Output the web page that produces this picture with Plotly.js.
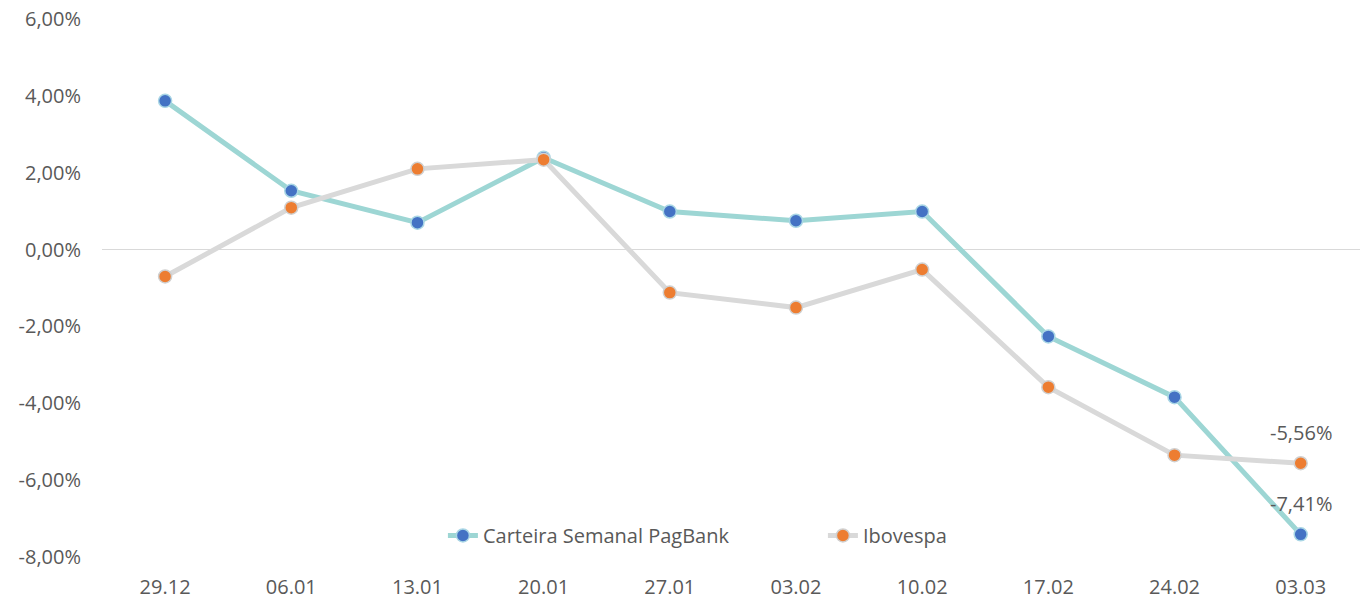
<!DOCTYPE html>
<html><head><meta charset="utf-8">
<script src="https://cdn.plot.ly/plotly-3.0.1.min.js"></script>
<style>html,body{margin:0;padding:0;background:#fff}#c{width:1360px;height:601px}</style>
</head><body><div id="c"></div>
<script>
const categories = ["29.12","06.01","13.01","20.01","27.01","03.02","10.02","17.02","24.02","03.03"];
const carteira = [0.0387,0.0153,0.0070,0.0239,0.0099,0.0075,0.0099,-0.0226,-0.0384,-0.0741];
const ibovespa = [-0.0070,0.0109,0.0210,0.0234,-0.0112,-0.0151,-0.0052,-0.0358,-0.0535,-0.0556];
const yTickVals = [-0.08,-0.06,-0.04,-0.02,0,0.02,0.04,0.06];
const yTickText = ["-8,00%","-6,00%","-4,00%","-2,00%","0,00%","2,00%","4,00%","6,00%"];
const lastLabels = {carteira:"-7,41%", ibovespa:"-5,56%"};

const font = {family:"Open Sans, Lato, sans-serif", size:20, color:"#595959"};
const last = categories.length - 1;
const traces = [
 {x:categories, y:carteira, name:"Carteira Semanal PagBank", type:"scatter", mode:"lines+markers",
  line:{color:"#9dd6d4", width:5}, marker:{color:"#4472c4", size:13, line:{color:"#a9d6e5", width:1.5}},
  cliponaxis:false, hoverinfo:"y"},
 {x:categories, y:ibovespa, name:"Ibovespa", type:"scatter", mode:"lines+markers",
  line:{color:"#d9d9d9", width:5}, marker:{color:"#ed7d31", size:13, line:{color:"#d0d0d0", width:1.5}},
  cliponaxis:false, hoverinfo:"y"}
];
const layout = {
 width:1360, height:601, margin:{l:102,r:0,t:19,b:44},
 paper_bgcolor:"#fff", plot_bgcolor:"#fff", separators:",.",
 font:font, showlegend:true,
 legend:{orientation:"h", x:0.271, xanchor:"left", y:0.04, yanchor:"middle", font:font, bgcolor:"rgba(0,0,0,0)", entrywidth:335, entrywidthmode:"pixels", tracegroupgap:0},
 xaxis:{type:"category", range:[-0.5,9.47], showgrid:false, zeroline:false, showline:false, ticks:"", tickfont:font, ticklabelstandoff:16, fixedrange:true},
 yaxis:{range:[-0.08,0.06], tickmode:"array", tickvals:yTickVals, ticktext:yTickText, showgrid:false, zeroline:true, zerolinecolor:"#d9d9d9", zerolinewidth:1.5, showline:false, ticks:"", tickfont:font, ticklabelstandoff:20, fixedrange:true},
 annotations:[
  {x:last, y:carteira[last], xref:"x", yref:"y", text:lastLabels.carteira, showarrow:false, yshift:31, font:font},
  {x:last, y:ibovespa[last], xref:"x", yref:"y", text:lastLabels.ibovespa, showarrow:false, yshift:31, font:font}
 ]
};
Plotly.newPlot("c", traces, layout, {displayModeBar:false, staticPlot:true});
</script></body></html>
